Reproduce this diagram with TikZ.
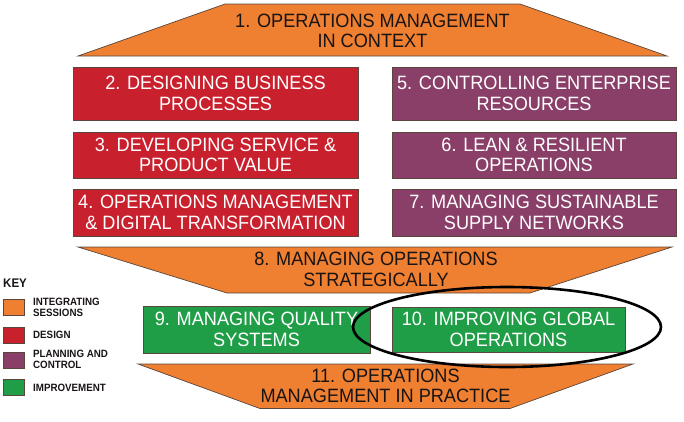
\documentclass[tikz,border=0pt]{standalone}
\usepackage{fontspec}
\setmainfont{Liberation Sans}
\newfontfamily\narrowfont[FakeStretch=0.94]{Liberation Sans}
\newfontfamily\keyfont[FakeStretch=0.92]{Liberation Sans}
\usetikzlibrary{shapes.geometric}
\definecolor{corange}{RGB}{239,127,49}
\definecolor{cred}{RGB}{201,32,46}
\definecolor{cpurple}{RGB}{138,63,104}
\definecolor{cgreen}{RGB}{31,158,71}
\definecolor{cedge}{RGB}{90,70,60}
\definecolor{ctext}{RGB}{25,20,20}
\begin{document}
\begin{tikzpicture}[x=1pt,y=-1pt,
  trap/.style={fill=corange,draw=cedge,line width=0.7pt,line join=miter},
  traptext/.style={align=center,inner sep=0pt,text=ctext,font=\narrowfont\fontsize{19.3}{20.5}\selectfont},
  box/.style={draw=cedge,line width=0.7pt,inner sep=0pt,align=center,text=white,font=\narrowfont\fontsize{19.3}{20.5}\selectfont},
  keysw/.style={draw=cedge,line width=0.6pt,minimum width=21pt,minimum height=16pt,inner sep=0pt},
  keytxt/.style={anchor=west,align=left,inner sep=0pt,text=ctext,font=\keyfont\fontsize{10.6}{10.8}\selectfont\bfseries}]
\useasboundingbox (0,0) rectangle (684,421);
% 1
\draw[trap] (225,4) -- (520,4) -- (667,56) -- (78,56) -- cycle;
\node[traptext] (t1) at (372.5,31) {1. OPERATIONS MANAGEMENT\\IN CONTEXT};
% left column
\node[box,fill=cred,minimum width=285pt,minimum height=53pt] (b2) at (215.5,93.5) {2. DESIGNING BUSINESS\\PROCESSES};
\node[box,fill=cred,minimum width=285pt,minimum height=46pt] (b3) at (215.5,155) {3. DEVELOPING SERVICE \&\\PRODUCT VALUE};
\node[box,fill=cred,minimum width=285pt,minimum height=47pt] (b4) at (215.5,212.5) {4. OPERATIONS MANAGEMENT\\\& DIGITAL TRANSFORMATION};
% right column
\node[box,fill=cpurple,minimum width=284pt,minimum height=53pt] (b5) at (534,93.5) {5. CONTROLLING ENTERPRISE\\RESOURCES};
\node[box,fill=cpurple,minimum width=284pt,minimum height=46pt] (b6) at (534,155) {6. LEAN \& RESILIENT\\OPERATIONS};
\node[box,fill=cpurple,minimum width=284pt,minimum height=47pt] (b7) at (534,212.5) {7. MANAGING SUSTAINABLE\\SUPPLY NETWORKS};
% 8
\draw[trap] (78,247) -- (672,247) -- (530,293) -- (227,293) -- cycle;
\node[traptext] (t8) at (376,269.5) {8. MANAGING OPERATIONS\\STRATEGICALLY};
% 9, 10
\node[box,fill=cgreen,minimum width=227pt,minimum height=47pt] (b9) at (256.5,329.5) {9. MANAGING QUALITY\\SYSTEMS};
\node[box,fill=cgreen,minimum width=233pt,minimum height=45pt] (b10) at (508.5,329.5) {10. IMPROVING GLOBAL\\OPERATIONS};
% 11
\draw[trap] (138,364) -- (633,364) -- (510,408.5) -- (260,408.5) -- cycle;
\node[traptext] (t11) at (385.5,386) {11. OPERATIONS\\MANAGEMENT IN PRACTICE};
% highlight ellipse
\node[draw=black,line width=2.6pt,ellipse,minimum width=308pt,minimum height=80pt,inner sep=0pt] (hl) at (507,327) {};
% key
\node[anchor=west,inner sep=0pt,text=ctext,font=\keyfont\fontsize{12.5}{14}\selectfont\bfseries] (key) at (3,283) {KEY};
\node[keysw,fill=corange] (k1) at (13.5,307) {};
\node[keysw,fill=cred] (k2) at (13.5,335) {};
\node[keysw,fill=cpurple] (k3) at (13.5,360) {};
\node[keysw,fill=cgreen] (k4) at (13.5,387.5) {};
\node[keytxt] (k1t) at (33,307) {INTEGRATING\\SESSIONS};
\node[keytxt] (k2t) at (33,335) {DESIGN};
\node[keytxt] (k3t) at (33,359.5) {PLANNING AND\\CONTROL};
\node[keytxt] (k4t) at (33,388) {IMPROVEMENT};
\end{tikzpicture}
\end{document}
